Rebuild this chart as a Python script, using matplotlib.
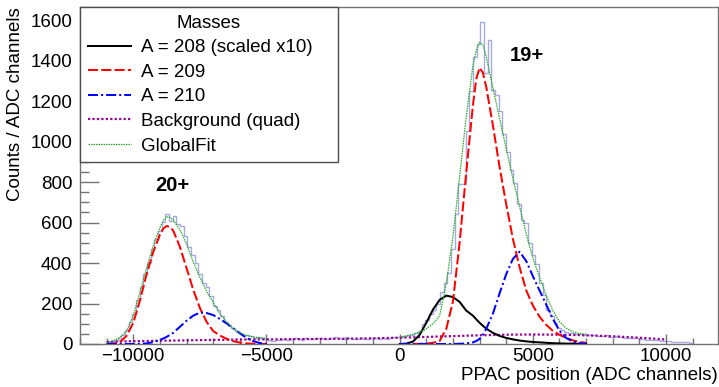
import numpy as np
import matplotlib
matplotlib.use("Agg")
import matplotlib.pyplot as plt
from matplotlib.ticker import MultipleLocator

plt.rcParams["font.family"] = ["Liberation Sans", "DejaVu Sans"]

# histogram: 160 bins from -11000 to 11000
HIST_LO, HIST_HI = -11000, 11000
hist_counts = [
    8, 15, 20, 30, 45, 70, 110, 150, 215, 280,
    345, 400, 470, 520, 560, 605, 640, 610, 630, 595,
    585, 535, 480, 440, 400, 345, 300, 280, 235, 190,
    170, 140, 110, 95, 80, 65, 55, 45, 42, 38,
    30, 33, 28, 25, 22, 15, 18, 22, 25, 20,
    24, 28, 26, 22, 30, 27, 24, 29, 31, 26,
    23, 28, 33, 30, 27, 35, 31, 26, 24, 29,
    27, 25, 31, 28, 26, 32, 27, 30, 33, 36,
    35, 38, 42, 45, 55, 62, 100, 120, 150, 168,
    200, 255, 300, 350, 470, 640, 790, 790, 1050, 1250,
    1420, 1480, 1590, 1340, 1500, 1255, 1230, 1150, 1040, 950,
    860, 795, 690, 615, 600, 500, 440, 395, 300, 240,
    170, 140, 105, 80, 68, 58, 55, 52, 50, 48,
    46, 44, 42, 45, 40, 38, 42, 37, 35, 38,
    33, 30, 32, 28, 29, 25, 26, 22, 20, 18,
    22, 15, 14, 16, 12, 12, 10, 9, 8, 5,
]

# 20+ fit components
x20 = [-11000, -10750, -10500, -10250, -10000, -9750, -9500, -9250, -9000, -8875,
       -8750, -8625, -8500, -8250, -8000, -7750, -7500, -7250, -7000, -6750,
       -6500, -6250, -6000, -5750, -5500, -5250, -5000]
glob20 = [6, 16, 32, 65, 140, 255, 375, 485, 575, 610,
          628, 626, 612, 565, 495, 405, 330, 262, 205, 150,
          108, 76, 55, 42, 35, 31, 28]
m209_20 = [0, 2, 10, 40, 105, 215, 345, 455, 540, 570,
           583, 578, 560, 480, 375, 268, 178, 110, 64, 42,
           26, 14, 7, 3, 1, 0, 0]
m210_20 = [0, 0, 0, 0, 0, 1, 3, 9, 20, 27,
           35, 45, 55, 85, 115, 140, 155, 153, 143, 124,
           102, 77, 53, 30, 14, 5, 1]

# 19+ fit components
x19 = [0, 250, 500, 750, 1000, 1250, 1500, 1750, 2000, 2250,
       2500, 2750, 2875, 3000, 3125, 3250, 3500, 3750, 4000, 4250,
       4500, 4750, 5000, 5250, 5500, 5750, 6000, 6250, 6500, 6750, 7000]
glob19 = [35, 40, 48, 58, 75, 100, 140, 298, 530, 826,
          1125, 1375, 1450, 1490, 1478, 1420, 1265, 1115, 965, 818,
          680, 545, 425, 330, 240, 165, 110, 78, 60, 52, 48]
m208_19 = [0, 2, 12, 45, 105, 170, 218, 239, 232, 208,
           165, 140, 122, 105, 90, 76, 55, 40, 30, 23,
           17, 13, 10, 8, 6, 4, 3, 2, 2, 1, 1]
m209_19 = [0, 0, 0, 1, 2, 6, 15, 75, 210, 500,
           850, 1180, 1310, 1365, 1340, 1270, 1080, 875, 690, 520,
           380, 265, 190, 135, 95, 65, 45, 30, 18, 10, 5]
m210_19 = [0, 0, 0, 0, 0, 0, 0, 0, 0, 1,
           3, 8, 15, 25, 45, 75, 150, 250, 345, 420,
           456, 410, 335, 265, 195, 125, 65, 30, 12, 4, 1]

# quadratic background
x_bg = [-11000, -10000, -9000, -8000, -7000, -6000, -5000, -4000, -3000, -2000, -1000,
        0, 1000, 2000, 3000, 4000, 5000, 6000, 7000, 8000, 9000, 10000]
bg = [10, 14, 16, 18, 20, 22, 23, 24, 25, 26, 28,
      31, 35, 39, 43, 46, 47, 46, 43, 38, 31, 22]

C_HIST = "#a9a9e2"
C_GREEN = "#22aa22"
C_PURPLE = "#990099"

fig = plt.figure(figsize=(7.19, 3.87), dpi=100)
ax = fig.add_axes([80 / 719, 43 / 387, 638 / 719, 337 / 387])

edges = np.linspace(HIST_LO, HIST_HI, len(hist_counts) + 1)
ax.stairs(hist_counts, edges, baseline=0, color=C_HIST, lw=1.0, zorder=1)

dash_red = (0, (5, 1.6))
dash_blue = (0, (5, 1.5, 1, 1.5))
lw = 1.45
ax.plot(x_bg, bg, color=C_PURPLE, lw=1.6, ls=(0, (1, 1)), label="Background (quad)", zorder=3)
ax.plot(x19, m208_19, color="black", lw=lw, label="A = 208 (scaled x10)", zorder=4)
ax.plot(x20, m209_20, color="red", lw=lw, ls=dash_red, label="A = 209", zorder=4)
ax.plot(x19, m209_19, color="red", lw=lw, ls=dash_red, zorder=4)
ax.plot(x20, m210_20, color="blue", lw=lw, ls=dash_blue, label="A = 210", zorder=4)
ax.plot(x19, m210_19, color="blue", lw=lw, ls=dash_blue, zorder=4)
ax.plot(x20, glob20, color=C_GREEN, lw=0.9, ls=(0, (1.2, 0.8)), label="GlobalFit", zorder=5)
ax.plot(x19, glob19, color=C_GREEN, lw=0.9, ls=(0, (1.2, 0.8)), zorder=5)

ax.set_xlim(-12000, 11950)
ax.set_ylim(0, 1665)

ax.xaxis.set_major_locator(MultipleLocator(5000))
ax.xaxis.set_minor_locator(MultipleLocator(1000))
ax.yaxis.set_major_locator(MultipleLocator(200))
ax.yaxis.set_minor_locator(MultipleLocator(50))
ax.tick_params(axis="both", which="both", direction="in", colors="0.45", labelcolor="black",
               labelsize=13.5, top=False, right=False)
ax.tick_params(axis="x", which="major", length=7.5, width=1, pad=3)
ax.tick_params(axis="x", which="minor", length=4.5, width=1)
ax.tick_params(axis="y", which="major", length=14, width=1, pad=5.5)
ax.tick_params(axis="y", which="minor", length=6.5, width=1)
for s in ax.spines.values():
    s.set_color("0.45")
    s.set_linewidth(1.0)

ax.set_xlabel("PPAC position (ADC channels)", loc="right", fontsize=13.5, labelpad=1)
ax.set_ylabel("Counts / ADC channels", loc="top", fontsize=13.5, labelpad=5)

ax.text(-8530, 785, "20+", fontsize=14.5, fontweight="bold", ha="center", va="center")
ax.text(4760, 1425, "19+", fontsize=14.5, fontweight="bold", ha="center", va="center")

h, l = ax.get_legend_handles_labels()
order = ["A = 208 (scaled x10)", "A = 209", "A = 210", "Background (quad)", "GlobalFit"]
hh = [h[l.index(o)] for o in order]
leg = ax.legend(hh, order, title="Masses", loc="upper left",
                bbox_to_anchor=(0, 0, 258 / 638, 1), mode="expand", borderaxespad=0,
                fontsize=13.5, title_fontsize=13.5, handlelength=2.3, handletextpad=0.55,
                borderpad=0.4, labelspacing=0.4, fancybox=False, framealpha=1)
leg.get_frame().set_edgecolor("0.3")
leg.get_frame().set_linewidth(1.0)
leg.set_zorder(10)

fig.savefig("out.png", dpi=100, facecolor="white")
